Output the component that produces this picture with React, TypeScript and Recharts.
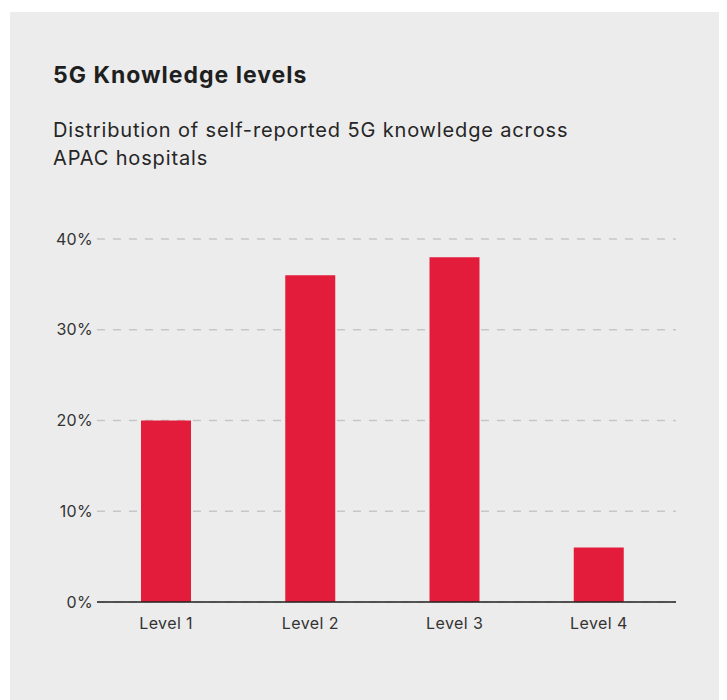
import { BarChart, Bar, XAxis, YAxis, CartesianGrid } from "recharts"

const levels = ["Level 1", "Level 2", "Level 3", "Level 4"]
const shares = [20, 36, 38, 6]
const yTicks = [0, 10, 20, 30, 40]

const data = levels.map((level, i) => ({ level, share: shares[i] }))

const FONT = "Inter, 'Noto Sans', sans-serif"

export default function App() {
  return (
    <div
      style={{
        position: "relative",
        marginLeft: 2,
        marginTop: 4,
        width: 717,
        height: 688,
        background: "#ececec",
        fontFamily: FONT,
        color: "#1f1f1f",
      }}
    >
      <div
        style={{
          position: "absolute",
          left: 43,
          top: 50,
          fontSize: 23,
          fontWeight: 700,
          lineHeight: "26px",
          letterSpacing: 1,
        }}
      >
        5G Knowledge levels
      </div>
      <div
        style={{
          position: "absolute",
          left: 43,
          top: 104,
          fontSize: 20,
          lineHeight: "28px",
          letterSpacing: 0.85,
          width: 620,
          color: "#262626",
        }}
      >
        Distribution of self-reported 5G knowledge across
        <br />
        APAC hospitals
      </div>
      <div style={{ position: "absolute", left: 0, top: 200 }}>
        <BarChart
          width={717}
          height={440}
          data={data}
          margin={{ top: 27, right: 51, bottom: 20, left: 27 }}
          barSize={50}
        >
          <CartesianGrid
            vertical={false}
            stroke="#c3c7c7"
            strokeDasharray="8 8"
            strokeWidth={1.5}
          />
          <XAxis
            dataKey="level"
            height={30}
            padding={{ left: -3, right: 5 }}
            axisLine={{ stroke: "#222", strokeWidth: 1.5 }}
            tickLine={false}
            tickSize={0}
            tickMargin={16}
            tick={{ fill: "#333", fontSize: 16, fontFamily: FONT, letterSpacing: 0.4 }}
          />
          <YAxis
            width={60}
            domain={[0, 40]}
            ticks={yTicks}
            axisLine={false}
            tickLine={false}
            tickSize={0}
            tickMargin={4}
            tickFormatter={(v: number) => `${v}%`}
            tick={{ fill: "#333", fontSize: 16, fontFamily: FONT, letterSpacing: 0.3 }}
          />
          <Bar dataKey="share" fill="#e31c3b" isAnimationActive={false} />
        </BarChart>
      </div>
    </div>
  )
}
